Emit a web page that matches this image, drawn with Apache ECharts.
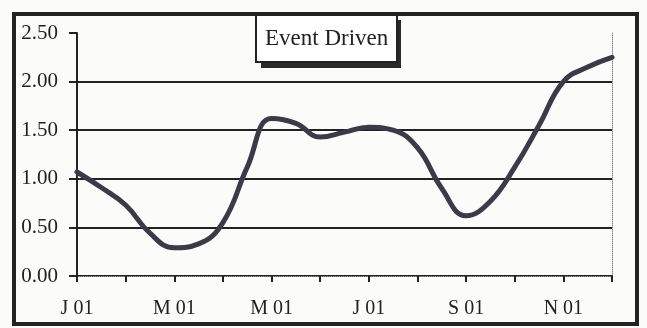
<!DOCTYPE html>
<html>
<head>
<meta charset="utf-8">
<style>
  html, body { margin: 0; padding: 0; background: #ffffff; }
  #chart { width: 647px; height: 328px; }
</style>
<script src="https://cdn.jsdelivr.net/npm/echarts@6/dist/echarts.min.js"></script>
</head>
<body>
<div id="chart"></div>
<script>
// Half-month sampling points across 2001 (start and middle of each month, up to early December)
var periods = [
  'Jan a', 'Jan b', 'Feb a', 'Feb b', 'Mar a', 'Mar b', 'Apr a', 'Apr b',
  'May a', 'May b', 'Jun a', 'Jun b', 'Jul a', 'Jul b', 'Aug a', 'Aug b',
  'Sep a', 'Sep b', 'Oct a', 'Oct b', 'Nov a', 'Nov b', 'Dec a'
];

// Month tick labels (one per month, shown every other month)
var monthLabels = ['J 01', 'F 01', 'M 01', 'A 01', 'M 01', 'J 01',
                   'J 01', 'A 01', 'S 01', 'O 01', 'N 01', 'D 01'];

// Event Driven index values
var eventDriven = [
  1.07, 0.91, 0.73, 0.44, 0.29, 0.33, 0.55, 1.12,
  1.62, 1.57, 1.43, 1.48, 1.53, 1.50, 1.32, 0.90,
  0.62, 0.77, 1.12, 1.55, 2.00, 2.15, 2.25
];

// Value axis tick labels
var yTicks = [0, 0.5, 1.0, 1.5, 2.0, 2.5];

var serif = '"Liberation Serif", "Times New Roman", "DejaVu Serif", serif';
var ink = '#222222';

var chart = echarts.init(document.getElementById('chart'), null, { renderer: 'canvas' });

chart.setOption({
  backgroundColor: '#fbfbf9',
  animation: false,
  title: {
    text: 'Event Driven',
    left: 256,
    top: 15,
    padding: [12, 9, 12, 9],
    backgroundColor: '#ffffff',
    borderColor: '#222222',
    borderWidth: 2,
    z: 10,
    textStyle: {
      fontFamily: serif,
      fontSize: 23,
      fontWeight: 'normal',
      color: ink
    }
  },
  graphic: [{
    // outer frame around the whole chart
    type: 'rect',
    shape: { x: 14, y: 14, width: 623, height: 310 },
    style: { fill: null, stroke: '#222222', lineWidth: 4 },
    silent: true,
    z: 100
  }, {
    // drop shadow behind the title box
    type: 'rect',
    shape: { x: 261, y: 20, width: 140, height: 48 },
    style: { fill: '#2a2a2a' },
    silent: true,
    z: 9
  }],
  grid: {
    left: 77,
    right: 35,
    top: 33,
    bottom: 52,
    containLabel: false
  },
  xAxis: [{
    type: 'category',
    data: periods,
    boundaryGap: false,
    axisLine: { show: true, lineStyle: { color: ink, width: 2 } },
    axisTick: {
      show: true,
      interval: 1,
      length: 6,
      inside: false,
      lineStyle: { color: ink, width: 2 }
    },
    axisLabel: {
      interval: 3,
      margin: 23,
      fontFamily: serif,
      fontSize: 20,
      color: ink,
      formatter: function (value, index) {
        return monthLabels[Math.floor(index / 2)];
      }
    },
    splitLine: { show: false }
  }, {
    type: 'category',
    data: periods,
    position: 'top',
    boundaryGap: false,
    axisLine: { show: true, lineStyle: { color: '#8a8a8a', width: 1, type: 'dotted' } },
    axisTick: { show: false },
    axisLabel: { show: false },
    splitLine: { show: false }
  }],
  yAxis: [{
    type: 'value',
    min: 0,
    max: 2.5,
    interval: 0.5,
    axisLine: { show: true, lineStyle: { color: ink, width: 2 } },
    axisTick: {
      show: true,
      length: 8,
      inside: false,
      lineStyle: { color: ink, width: 2 }
    },
    axisLabel: {
      margin: 19,
      fontFamily: serif,
      fontSize: 21,
      color: ink,
      formatter: function (v) {
        return yTicks.indexOf(v) >= 0 ? v.toFixed(2) : '';
      }
    },
    splitLine: {
      show: true,
      showMinLine: false,
      showMaxLine: false,
      lineStyle: { color: ink, width: 2 }
    }
  }, {
    type: 'value',
    position: 'right',
    min: 0,
    max: 2.5,
    interval: 0.5,
    axisLine: { show: true, lineStyle: { color: '#8a8a8a', width: 1, type: 'dotted' } },
    axisTick: { show: false },
    axisLabel: { show: false },
    splitLine: { show: false }
  }],
  series: [{
    name: 'Event Driven',
    type: 'line',
    xAxisIndex: 0,
    yAxisIndex: 0,
    data: eventDriven,
    smooth: 0.45,
    showSymbol: false,
    lineStyle: { color: '#3b3a48', width: 5, cap: 'round', join: 'round' },
    z: 5
  }]
});
</script>
</body>
</html>
